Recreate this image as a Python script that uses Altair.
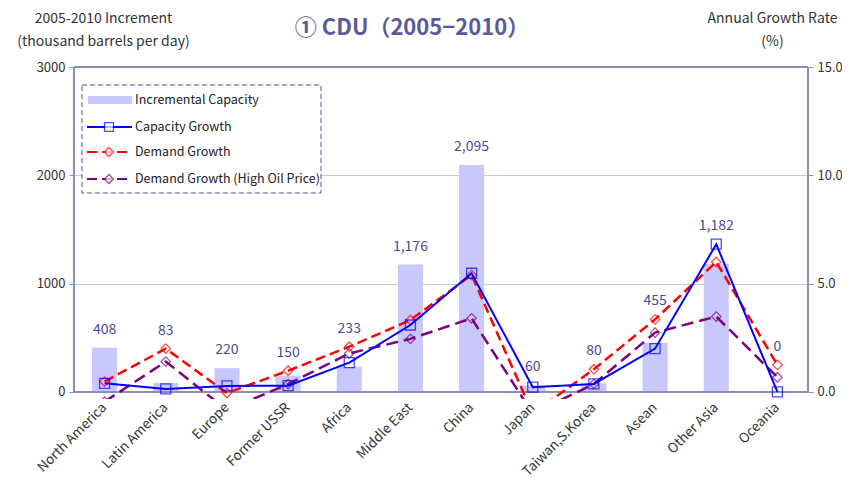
import altair as alt
import pandas as pd

# ---------------- data ----------------
regions = ["North America", "Latin America", "Europe", "Former USSR", "Africa",
           "Middle East", "China", "Japan", "Taiwan,S.Korea", "Asean",
           "Other Asia", "Oceania"]
increment = [408, 83, 220, 150, 233, 1176, 2095, 60, 80, 455, 1182, 0]
capacity_growth = [0.40, 0.14, 0.28, 0.29, 1.35, 3.09, 5.48, 0.22, 0.37, 2.00, 6.82, 0.00]
demand_growth = [0.48, 2.00, -0.05, 0.98, 2.09, 3.32, 5.40, -1.00, 1.05, 3.35, 6.00, 1.25]
high_oil_growth = [-0.45, 1.40, -0.83, 0.36, 1.78, 2.45, 3.40, -1.00, 0.37, 2.74, 3.48, 0.68]
series_names = ["Incremental Capacity", "Capacity Growth", "Demand Growth",
                "Demand Growth (High Oil Price)"]
left_ticks = [0, 1000, 2000, 3000]
right_ticks = [0.0, 5.0, 10.0, 15.0]
chart_title = "① CDU（2005−2010）"
left_title = ["2005-2010 Increment", "(thousand barrels per day)"]
right_title = ["Annual Growth Rate", "(%)"]

# ---------------- styles ----------------
W, H = 734, 332
Y_LEFT = [-65, 3000]
Y_RIGHT = [-0.325, 15]
FONT = "Noto Sans CJK JP"
FRAME = "#8c8cb8"
BAR = "#c8c8fa"
LABEL = "#4a4a96"
BLUE = "#0000ff"
RED = "#ff0000"
PURPLE = "#800080"

df = pd.DataFrame({
    "region": regions,
    "inc": increment,
    "cap": capacity_growth,
    "dem": demand_growth,
    "hi": high_oil_growth,
})
ratio = Y_LEFT[1] / Y_RIGHT[1]
df["label_y"] = [max(i, ratio * max(c, d, h, 0))
                 for i, c, d, h in zip(increment, capacity_growth, demand_growth, high_oil_growth)]
df["label"] = [f"{v:,}" for v in increment]

x_enc = alt.X("region:N", sort=regions,
              scale=alt.Scale(paddingInner=0.59, paddingOuter=0.295),
              axis=alt.Axis(title=None, labelAngle=-45, labelAlign="right",
                            labelBaseline="middle", labelPadding=6, ticks=False,
                            domain=False, labelFont=FONT, labelFontSize=13.5,
                            labelColor="#333333"))


def y_left(field):
    return alt.Y(f"{field}:Q",
                 scale=alt.Scale(domain=Y_LEFT, nice=False, zero=False),
                 axis=alt.Axis(orient="left", values=left_ticks, format="d",
                               title=left_title, titleAngle=0, titleX=29, titleY=-45,
                               titleAlign="center", titleBaseline="alphabetic",
                               titleFontWeight="normal", titleFontSize=14,
                               titleFont=FONT, titleColor="#333333", titleLineHeight=23,
                               grid=True, gridColor="#c8c8c8", domain=False,
                               tickColor=FRAME, tickSize=5, labelFont=FONT,
                               labelFontSize=13, labelColor="#333333", labelPadding=4))


def y_right(field):
    return alt.Y(f"{field}:Q",
                 scale=alt.Scale(domain=Y_RIGHT, nice=False, zero=False),
                 axis=alt.Axis(orient="right", values=right_ticks, format=".1f",
                               title=right_title, titleAngle=0, titleX=-36, titleY=-45,
                               titleAlign="center", titleBaseline="alphabetic",
                               titleFontWeight="normal", titleFontSize=14,
                               titleFont=FONT, titleColor="#333333", titleLineHeight=23,
                               grid=False, domain=False, tickColor=FRAME, tickSize=5,
                               labelFont=FONT, labelFontSize=13, labelColor="#333333",
                               labelPadding=4))


base = alt.Chart(df)

bars = base.mark_bar(color=BAR).encode(x=x_enc, y=y_left("inc"), y2=alt.datum(0))
labels = base.mark_text(font=FONT, fontSize=14, color=LABEL, dy=-18).encode(
    x=x_enc, y=y_left("label_y"), text="label:N")
rule_bottom = base.mark_rule(color=FRAME, strokeWidth=1.5).encode(y=alt.datum(0))
rule_top = base.mark_rule(color=FRAME, strokeWidth=1.5).encode(y=alt.datum(Y_LEFT[1]))
rule_l = base.mark_rule(color=FRAME, strokeWidth=1.5).encode(
    x=alt.value(0), y=alt.datum(Y_LEFT[1]), y2=alt.datum(0))
rule_r = base.mark_rule(color=FRAME, strokeWidth=1.5).encode(
    x=alt.value(W), y=alt.datum(Y_LEFT[1]), y2=alt.datum(0))
left_layer = alt.layer(bars, rule_bottom, rule_top, rule_l, rule_r, labels)


def series(field, color, dash, width, shape, size):
    line_kw = dict(color=color, strokeWidth=width, clip=True)
    if dash:
        line_kw["strokeDash"] = dash
    ln = base.mark_line(**line_kw).encode(x=x_enc, y=y_right(field))
    pt = base.mark_point(shape=shape, size=size, color=color, filled=False,
                         strokeWidth=1.3, clip=True).encode(x=x_enc, y=y_right(field))
    return [ln, pt]


right_layer = alt.layer(
    *series("hi", PURPLE, [12, 6], 2.5, "diamond", 90),
    *series("dem", RED, [10, 5], 2.5, "diamond", 90),
    *series("cap", BLUE, None, 2, "square", 100),
)

# ---------------- legend ----------------
one = pd.DataFrame({"k": [0]})
leg = [
    alt.Chart(one).mark_rect(fill="white", stroke="#555588", strokeDash=[5, 3],
                             strokeWidth=1).encode(
        x=alt.value(8), x2=alt.value(247), y=alt.value(18), y2=alt.value(126)),
    alt.Chart(one).mark_rect(fill=BAR).encode(
        x=alt.value(14), x2=alt.value(58), y=alt.value(29), y2=alt.value(37)),
]
entry_y = [33, 60, 85, 112]
for name, yy in zip(series_names, entry_y):
    leg.append(alt.Chart(pd.DataFrame({"t": [name]})).mark_text(
        font=FONT, fontSize=12.5, color="#222222", align="left", baseline="middle").encode(
        x=alt.value(61), y=alt.value(yy), text="t:N"))
for color, dash, shape, yy in [(BLUE, None, "square", 60), (RED, [10, 5], "diamond", 85),
                               (PURPLE, [10, 5], "diamond", 112)]:
    kw = dict(color=color, strokeWidth=2)
    if dash:
        kw["strokeDash"] = dash
    leg.append(alt.Chart(one).mark_rule(**kw).encode(
        x=alt.value(13), x2=alt.value(58), y=alt.value(yy)))
    leg.append(alt.Chart(one).mark_point(shape=shape, size=80, color=color, filled=False,
                                         fill="white", strokeWidth=1.3).encode(
        x=alt.value(35), y=alt.value(yy)))

title_mark = alt.Chart(one).mark_text(
    font=FONT, fontSize=22, fontWeight="bold", color="#5a5a9a").encode(
    x=alt.value(W / 2 - 29), y=alt.value(-39), text=alt.value(chart_title))

chart = alt.layer(left_layer, right_layer, *leg, title_mark).resolve_scale(
    y="independent").properties(
    width=W, height=H,
    autosize=alt.AutoSizeParams(type="none"),
    padding={"left": 66, "top": 59, "right": 34, "bottom": 80},
    background="white",
).configure_view(stroke=None)

chart.save("out.html", embed_options={"renderer": "svg", "actions": False})
